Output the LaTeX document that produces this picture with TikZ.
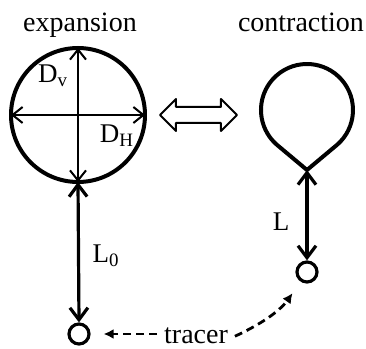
\documentclass[tikz,border=0pt]{standalone}
\usepackage{fontspec}
\setmainfont{Liberation Serif}
\usetikzlibrary{arrows.meta}

\begin{document}
\begin{tikzpicture}[x=0.5pt,y=0.5pt,line join=round,
  titlefont/.style={font=\fontsize{14}{16}\selectfont},
  labelfont/.style={font=\fontsize{13.5}{15}\selectfont},
  diamarrow/.style={line width=1pt,{Straight Barb[length=5pt,width=8pt]}-{Straight Barb[length=5pt,width=8pt]}},
  lenarrow/.style={line width=1.6pt,{Straight Barb[length=6pt,width=9pt]}-{Straight Barb[length=6pt,width=9pt]}},
  tracerdot/.style={circle,draw,line width=1.6pt,inner sep=0pt,minimum size=10pt},
  pointer/.style={line width=1.4pt,dash pattern=on 4pt off 2.5pt,-{Latex[length=5pt,width=5pt]}}]
  \useasboundingbox (0,0) rectangle (366,349);
  % expanded bubble with its two diameters
  \node[titlefont,anchor=base] (expn) at (80,317) {expansion};
  \draw[line width=2pt] (78,234) circle[radius=67];
  \coordinate (top) at (78,301);
  \coordinate (bot) at (78,167);
  \coordinate (lft) at (11,234);
  \coordinate (rgt) at (145,234);
  \draw[diamarrow] (bot) -- (top);
  \draw[diamarrow] (lft) -- (rgt);
  \node[labelfont] (dv) at (53,273) {D\textsubscript{v}};
  \node[labelfont] (dh) at (117,213) {D\textsubscript{H}};
  % hollow double arrow between the two states
  \draw[line width=1pt] (160,234) -- (176,250) -- (176,242) -- (221,242) -- (221,250) -- (237,234)
    -- (221,218) -- (221,226) -- (176,226) -- (176,218) -- cycle;
  % contracted bubble, drawn as a drop
  \node[titlefont,anchor=base] (contr) at (301,317) {contraction};
  \coordinate (cen) at (307,239);
  \coordinate (tip) at (307,179);
  \draw[line width=2pt] (tip) -- ([shift={(-49:46)}]cen) arc[start angle=-49,end angle=229,radius=46] -- cycle;
  % tracers and their distances
  \node[tracerdot] (tra) at (79,15) {};
  \node[tracerdot] (trb) at (307,77) {};
  \draw[lenarrow] (bot) -- (tra.north);
  \draw[lenarrow] (tip) -- (trb.north);
  \node[labelfont] (lzero) at (106,93) {L\textsubscript{0}};
  \node[labelfont] (lcon) at (281,127) {L};
  \node[titlefont,anchor=base] (trc) at (196,5) {tracer};
  \draw[pointer,shorten >=6.5pt] (trc.west |- tra) -- (tra);
  \draw[pointer,shorten >=7pt] (trc.east) to[bend right=15] (trb);
\end{tikzpicture}
\end{document}
